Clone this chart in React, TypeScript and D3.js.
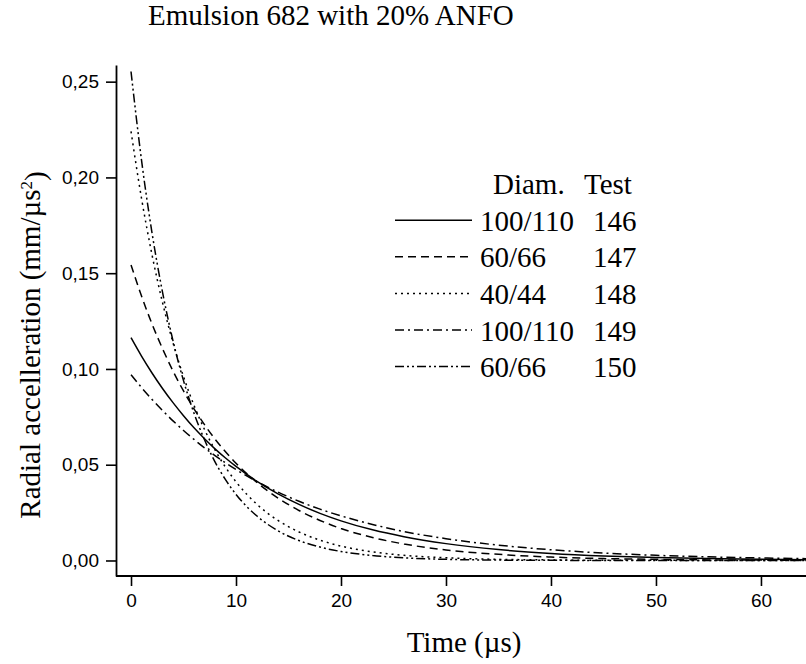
import { useRef, useEffect } from 'react';
import * as d3 from 'd3';

// time axis (µs) and radial acceleration (mm/µs²)
const times = [0, 1, 2, 3, 4, 5, 6, 7, 8, 9, 10, 12, 14, 16, 18, 20, 23, 26, 30, 35, 40, 45, 50, 55, 60, 65];

const test146 = [0.1163, 0.1067, 0.0979, 0.0898, 0.0824, 0.0756, 0.0693, 0.0636, 0.0583, 0.0535, 0.0491, 0.0413, 0.0348, 0.0293, 0.0246, 0.0207, 0.0160, 0.0124, 0.0088, 0.0057, 0.0037, 0.0024, 0.0016, 0.0010, 0.0007, 0.0004];
const test147 = [0.1543, 0.1381, 0.1235, 0.1106, 0.0989, 0.0885, 0.0792, 0.0709, 0.0634, 0.0568, 0.0508, 0.0407, 0.0326, 0.0261, 0.0209, 0.0167, 0.0120, 0.0086, 0.0055, 0.0032, 0.0018, 0.0010, 0.0006, 0.0003, 0.0002, 0.0001];
const test148 = [0.2240, 0.1891, 0.1596, 0.1347, 0.1137, 0.0960, 0.0810, 0.0684, 0.0577, 0.0487, 0.0411, 0.0293, 0.0209, 0.0149, 0.0106, 0.0075, 0.0045, 0.0027, 0.0014, 0.0006, 0.0003, 0.0001, 0.0001, 0, 0, 0];
const test149 = [0.0970, 0.0903, 0.0841, 0.0783, 0.0729, 0.0679, 0.0632, 0.0588, 0.0548, 0.0510, 0.0475, 0.0412, 0.0357, 0.0309, 0.0268, 0.0233, 0.0188, 0.0151, 0.0114, 0.0080, 0.0056, 0.0039, 0.0027, 0.0019, 0.0013, 0.0009];
const test150 = [0.2553, 0.2090, 0.1711, 0.1401, 0.1147, 0.0939, 0.0769, 0.0630, 0.0515, 0.0422, 0.0345, 0.0232, 0.0155, 0.0104, 0.0070, 0.0047, 0.0026, 0.0014, 0.0006, 0.0002, 0.0001, 0, 0, 0, 0, 0];

const series = [test146, test147, test148, test149, test150];
const diameters = ['100/110', '60/66', '40/44', '100/110', '60/66'];
const tests = ['146', '147', '148', '149', '150'];

const xTicks = [0, 10, 20, 30, 40, 50, 60];
const yTicks = [0, 0.05, 0.1, 0.15, 0.2, 0.25];

const dashes = ['none', '8,5', '2,4', '9,4,2,4', '9,3,2,3,2,3'];

const SERIF = "'Liberation Serif', 'Times New Roman', serif";
const SANS = "'Liberation Sans', Arial, sans-serif";

const Chart = () => {
  const svgRef = useRef<SVGSVGElement>(null);

  useEffect(() => {
    if (!svgRef.current) return;
    const width = 806;
    const height = 664;
    const svg = d3.select(svgRef.current);
    svg.selectAll('*').remove();

    const x = d3.scaleLinear().domain([-1.43, 64.29]).range([116, 806]);
    const y = d3.scaleLinear().domain([-0.0081, 0.2587]).range([576, 65]);

    const fmtY = (d: number) => d3.format('.2f')(d).replace('.', ',');

    // curves
    const line = d3.line<number>()
      .x((_, i) => x(times[i]))
      .y(d => y(d))
      .curve(d3.curveMonotoneX);

    svg.append('g')
      .selectAll('path')
      .data(series)
      .join('path')
      .attr('fill', 'none')
      .attr('stroke', '#000')
      .attr('stroke-width', 1.5)
      .attr('stroke-dasharray', (_, i) => dashes[i])
      .attr('d', d => line(d));

    // x axis
    const gx = svg.append('g').attr('transform', `translate(0,576)`);
    gx.call(d3.axisBottom(x).tickValues(d3.range(5, 65, 10)).tickSize(5).tickFormat(() => '').tickSizeOuter(0));
    gx.call(d3.axisBottom(x).tickValues(xTicks).tickSize(10).tickPadding(8).tickSizeOuter(0).tickFormat(d3.format('d')));
    gx.selectAll('.domain').attr('stroke-width', 1.8).attr('d', `M${x.range()[0]},0H${width}`);
    gx.selectAll('line').attr('stroke-width', 1.6);
    gx.selectAll('text').attr('font-family', SANS).attr('font-size', 19).attr('fill', '#000');

    // y axis
    const gy = svg.append('g').attr('transform', `translate(116,0)`);
    gy.call(d3.axisLeft(y).tickValues(d3.range(0.025, 0.26, 0.05)).tickSize(5).tickFormat(() => '').tickSizeOuter(0));
    gy.call(d3.axisLeft(y).tickValues(yTicks).tickSize(10).tickPadding(7).tickSizeOuter(0).tickFormat(d => fmtY(+d)));
    gy.selectAll('.domain').attr('stroke-width', 1.8);
    gy.selectAll('line').attr('stroke-width', 1.6);
    gy.selectAll('text').attr('font-family', SANS).attr('font-size', 19).attr('fill', '#000');

    // title
    svg.append('text')
      .attr('x', 148).attr('y', 25)
      .attr('font-family', SERIF).attr('font-size', 29)
      .text('Emulsion 682 with 20% ANFO');

    // axis titles
    svg.append('text')
      .attr('x', 464).attr('y', 652)
      .attr('text-anchor', 'middle')
      .attr('font-family', SERIF).attr('font-size', 29)
      .text('Time (µs)');

    const yt = svg.append('text')
      .attr('transform', 'translate(40,345) rotate(-90)')
      .attr('text-anchor', 'middle')
      .attr('font-family', SERIF).attr('font-size', 29);
    yt.append('tspan').text('Radial accelleration (mm/µs');
    yt.append('tspan').attr('dy', '-0.45em').attr('font-size', 17).text('2');
    yt.append('tspan').attr('dy', '0.45em').text(')');

    // legend
    const lg = svg.append('g').attr('font-family', SERIF).attr('font-size', 29);
    lg.append('text').attr('x', 493).attr('y', 194).text('Diam.');
    lg.append('text').attr('x', 584).attr('y', 194).text('Test');
    tests.forEach((t, i) => {
      const by = 230.7 + i * 36.6;
      lg.append('line')
        .attr('x1', 395).attr('x2', 472)
        .attr('y1', by - 10.5).attr('y2', by - 10.5)
        .attr('stroke', '#000').attr('stroke-width', 1.5)
        .attr('stroke-dasharray', dashes[i]);
      lg.append('text').attr('x', 480).attr('y', by).text(diameters[i]);
      lg.append('text').attr('x', 593).attr('y', by).text(t);
    });

    svg.attr('width', width).attr('height', height);
  }, []);

  return <svg ref={svgRef} width={806} height={664} style={{ position: 'absolute', left: 0, top: 0, background: '#fff' }} />;
};

export default function App() {
  return <Chart />;
}
